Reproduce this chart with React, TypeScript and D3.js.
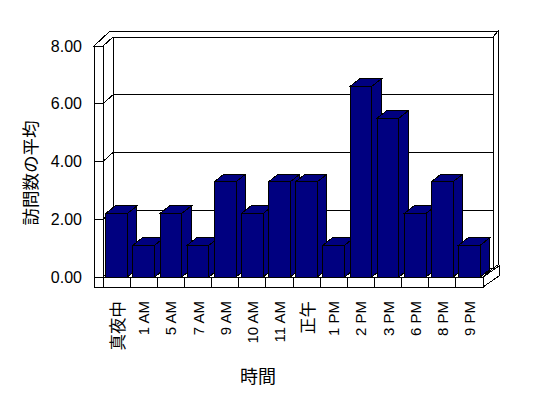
import React from "react";
import * as d3 from "d3";

const categories = ["真夜中", "1 AM", "5 AM", "7 AM", "9 AM", "10 AM", "11 AM", "正午", "1 PM", "2 PM", "3 PM", "6 PM", "8 PM", "9 PM"];
const visits = [2.2, 1.1, 2.2, 1.1, 3.3, 2.2, 3.3, 3.3, 1.1, 6.6, 5.5, 2.2, 3.3, 1.1];
const yTicks = [0, 2, 4, 6, 8];
const yTitle = "訪問数の平均";
const xTitle = "時間";

const W = 548;
const H = 398;

// 3d box geometry
const wallOuter = 94;
const left = 103;
const right = 483;
const floorBottom = 287;
const depth = { dx: 10, dy: -9 };
const barDepth = { dx: 9.5, dy: -7.5 };
const outerTop = 31;
const outerRight = 498;

const navy = "#000080";
const font = "'Liberation Sans', Arial, sans-serif";
const cjk = /[\u3000-\u9fff]/;

const pts = (p: number[][]) => p.map((d) => d.join(",")).join(" ");

export default function App() {
  const y = d3.scaleLinear().domain([0, 8]).range([277, 46]);
  const x = d3.scaleBand<string>().domain(categories).range([left, right]).paddingInner(0.2).paddingOuter(0.1);
  const band = d3.scaleBand<string>().domain(categories).range([left, right]);
  const fmt = d3.format(".2f");

  const y0 = y(0);
  const yTop = y(8);
  const backL = left + depth.dx;
  const backR = right + depth.dx;

  return (
    <svg width={W} height={H} style={{ position: "absolute", left: 0, top: 0, background: "#fff" }} shapeRendering="crispEdges">
      {/* back wall */}
      <rect x={backL} y={yTop + depth.dy} width={backR - backL} height={y0 - yTop} fill="#fff" stroke="#000" />
      {yTicks.map((t) => (
        <g key={"g" + t}>
          <line x1={backL} x2={backR} y1={y(t) + depth.dy} y2={y(t) + depth.dy} stroke="#000" />
          <line x1={left} x2={backL} y1={y(t)} y2={y(t) + depth.dy} stroke="#000" />
        </g>
      ))}
      {/* top edge / wall thickness */}
      <polygon
        points={pts([
          [wallOuter, yTop],
          [wallOuter + 16, outerTop],
          [outerRight, outerTop],
          [backR, yTop + depth.dy],
          [backL, yTop + depth.dy],
          [left, yTop],
        ])}
        fill="#fff"
        stroke="#000"
      />
      <polygon
        points={pts([
          [backR, yTop + depth.dy],
          [outerRight, outerTop],
          [outerRight, y0 + depth.dy - 3],
          [backR, y0 + depth.dy],
        ])}
        fill="#fff"
        stroke="#000"
      />
      {/* floor */}
      <polygon
        points={pts([
          [left, y0],
          [right, y0],
          [backR, y0 + depth.dy],
          [backL, y0 + depth.dy],
        ])}
        fill="#fff"
        stroke="#000"
      />
      <polygon
        points={pts([
          [right, y0],
          [right, floorBottom],
          [outerRight + 1, floorBottom - 11],
          [outerRight + 1, y0 - 11],
        ])}
        fill="#fff"
        stroke="#000"
      />
      <rect x={wallOuter} y={y0} width={right - wallOuter} height={floorBottom - y0} fill="#fff" stroke="#000" />
      {categories.slice(1).map((c) => (
        <line key={"d" + c} x1={band(c)!} x2={band(c)!} y1={y0} y2={floorBottom} stroke="#000" />
      ))}
      {/* left wall front face */}
      <rect x={wallOuter} y={yTop} width={left - wallOuter} height={floorBottom - yTop} fill="#fff" stroke="#000" />
      <line x1={left} x2={left} y1={yTop} y2={y0} stroke="#000" />
      {yTicks.map((t) => (
        <line key={"t" + t} x1={wallOuter} x2={left} y1={y(t)} y2={y(t)} stroke="#000" />
      ))}

      {/* bars */}
      {categories.map((c, i) => {
        const x0 = x(c)!;
        const x1 = x0 + x.bandwidth();
        const yt = y(visits[i]);
        const { dx, dy } = barDepth;
        return (
          <g key={"b" + c} fill={navy} stroke="#000">
            <polygon points={pts([[x1, yt], [x1 + dx, yt + dy], [x1 + dx, y0 + dy], [x1, y0]])} />
            <polygon points={pts([[x0, yt], [x0 + dx, yt + dy], [x1 + dx, yt + dy], [x1, yt]])} />
            <rect x={x0} y={yt} width={x1 - x0} height={y0 - yt} />
          </g>
        );
      })}

      {/* y tick labels */}
      {yTicks.map((t) => (
        <text key={"l" + t} x={82} y={y(t)} textAnchor="end" dominantBaseline="central" fontFamily={font} fontSize={16} fill="#000">
          {fmt(t)}
        </text>
      ))}

      {/* x labels */}
      {categories.map((c) => (
        <text
          key={"x" + c}
          transform={`translate(${band(c)! + band.bandwidth() / 2},301) rotate(-90)`}
          textAnchor="end"
          dominantBaseline="central"
          fontFamily={cjk.test(c) ? "'Noto Sans CJK JP', sans-serif" : font}
          fontSize={cjk.test(c) ? 16.5 : 15}
          fill="#000"
        >
          {c}
        </text>
      ))}

      <text
        transform="translate(29.5,173) rotate(-90)"
        textAnchor="middle"
        dominantBaseline="central"
        fontFamily="'Noto Sans CJK JP', sans-serif"
        fontSize={17.5}
        fill="#000"
      >
        {yTitle}
      </text>
      <text x={258} y={375} textAnchor="middle" dominantBaseline="central" fontFamily="'Noto Sans CJK JP', sans-serif" fontSize={18} fill="#000">
        {xTitle}
      </text>
    </svg>
  );
}
